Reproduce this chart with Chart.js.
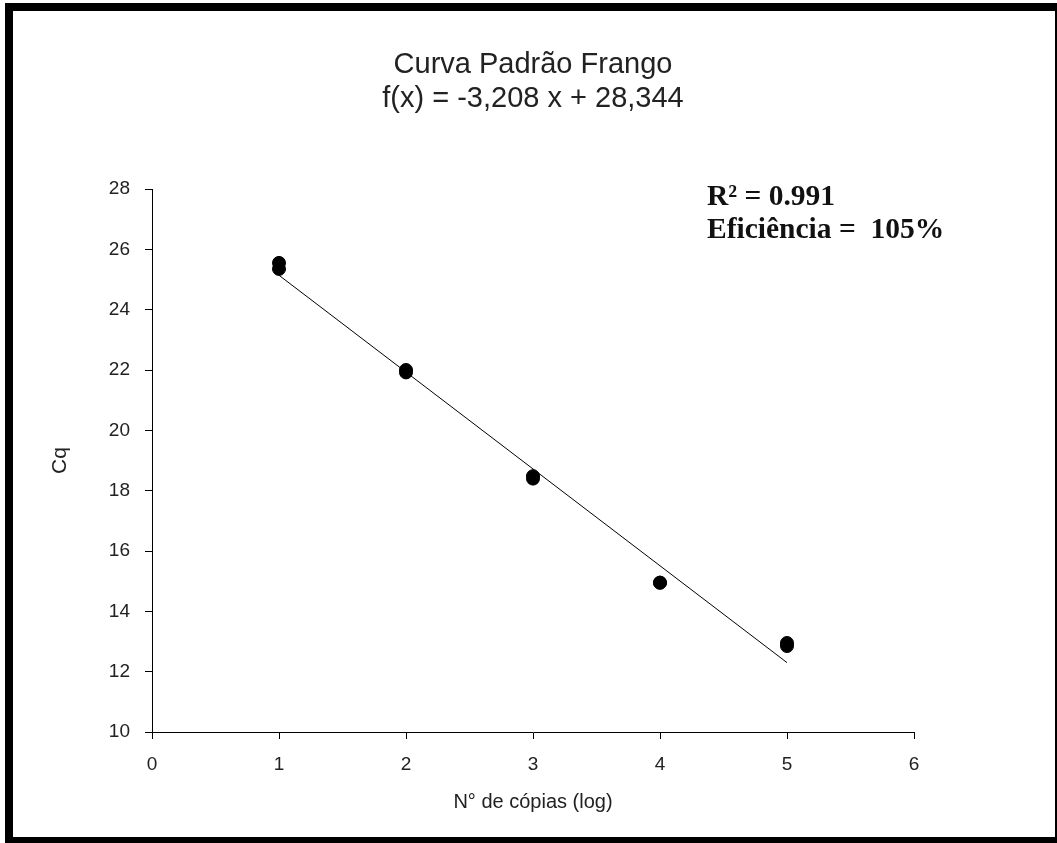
<!DOCTYPE html>
<html>
<head>
<meta charset="utf-8">
<script src="https://cdn.jsdelivr.net/npm/chart.js@4/dist/chart.umd.min.js"></script>
<style>
  html, body { margin: 0; padding: 0; background: #fff; overflow: hidden; }
  #wrap { position: relative; width: 1057px; height: 843px; }
  #frame {
    position: absolute; left: 5px; top: 3px; width: 1058px; height: 842px;
    border: 8px solid #000; box-sizing: border-box; pointer-events: none;
  }
</style>
</head>
<body>
<div id="wrap">
  <canvas id="curveChart"></canvas>
  <div id="frame"></div>
</div>
<script>
// Data
const cqX = [1, 1, 2, 2, 3, 3, 4, 4, 5, 5];
const cqY = [25.55, 25.35, 22.0, 21.92, 18.48, 18.4, 14.95, 14.95, 12.95, 12.85];
// regression line end points (f(x) = -3,208 x + 28,344)
const fitX = [1, 5];
const fitY = [25.14, 12.30];

const xTicks = [0, 1, 2, 3, 4, 5, 6];
const yTicks = [10, 12, 14, 16, 18, 20, 22, 24, 26, 28];

const titleLines = ['Curva Padrão Frango', 'f(x) = -3,208 x + 28,344'];
const noteLines = ['R² = 0.991', 'Eficiência =  105%'];

const textColor = '#222';
const sansFont = "'Liberation Sans', Arial, sans-serif";

// titles + R²/efficiency note
const textPlugin = {
    id: 'textPlugin',
    afterDraw(chart) {
        const ctx = chart.ctx;
        const area = chart.chartArea;
        const cx = (area.left + area.right) / 2;
        ctx.save();
        ctx.fillStyle = textColor;
        ctx.textAlign = 'center';
        ctx.textBaseline = 'middle';
        ctx.font = '29px ' + sansFont;
        ctx.fillText(titleLines[0], cx, 65);
        ctx.fillText(titleLines[1], cx, 99);

        ctx.fillStyle = '#111';
        ctx.textAlign = 'left';
        ctx.textBaseline = 'alphabetic';
        ctx.font = "bold 29.5px 'Liberation Serif', 'Times New Roman', serif";
        ctx.fillText(noteLines[0], 707, 205);
        ctx.fillText(noteLines[1], 707, 238);
        ctx.restore();
    }
};

new Chart(document.getElementById('curveChart'), {
    type: 'scatter',
    data: {
        datasets: [
            {
                label: 'Cq',
                data: cqX.map((x, i) => ({ x: x, y: cqY[i] })),
                backgroundColor: '#000',
                borderColor: '#000',
                pointRadius: 6.5,
                pointHoverRadius: 6.5
            },
            {
                label: 'Ajuste',
                data: fitX.map((x, i) => ({ x: x, y: fitY[i] })),
                showLine: true,
                borderColor: '#000',
                borderWidth: 1,
                pointRadius: 0,
                fill: false
            }
        ]
    },
    options: {
        responsive: true,
        maintainAspectRatio: false,
        animation: false,
        layout: { padding: { left: 0, top: 189, right: 143, bottom: 0 } },
        scales: {
            x: {
                type: 'linear',
                min: 0, max: 6,
                afterBuildTicks: (scale) => { scale.ticks = xTicks.map(v => ({ value: v })); },
                afterFit: (scale) => { scale.height = 111; },
                border: { display: true, color: '#000', width: 1 },
                grid: { display: true, drawOnChartArea: false, drawTicks: true, tickLength: 7, color: '#000' },
                ticks: { color: textColor, padding: 14, font: { family: sansFont, size: 19 } },
                title: {
                    display: true,
                    text: 'N° de cópias (log)',
                    color: textColor,
                    font: { family: sansFont, size: 20 },
                    padding: { top: 4, bottom: 29 }
                }
            },
            y: {
                type: 'linear',
                min: 10, max: 28,
                afterBuildTicks: (scale) => { scale.ticks = yTicks.map(v => ({ value: v })); },
                afterFit: (scale) => { scale.width = 152; },
                border: { display: true, color: '#000', width: 1 },
                grid: { display: true, drawOnChartArea: false, drawTicks: true, tickLength: 7, color: '#000' },
                ticks: { color: textColor, padding: 15, font: { family: sansFont, size: 19 } },
                title: {
                    display: true,
                    text: 'Cq',
                    color: textColor,
                    font: { family: sansFont, size: 21 },
                    padding: { top: 48, bottom: 48 }
                }
            }
        },
        plugins: {
            legend: { display: false },
            tooltip: { enabled: false }
        }
    },
    plugins: [textPlugin]
});
</script>
</body>
</html>
